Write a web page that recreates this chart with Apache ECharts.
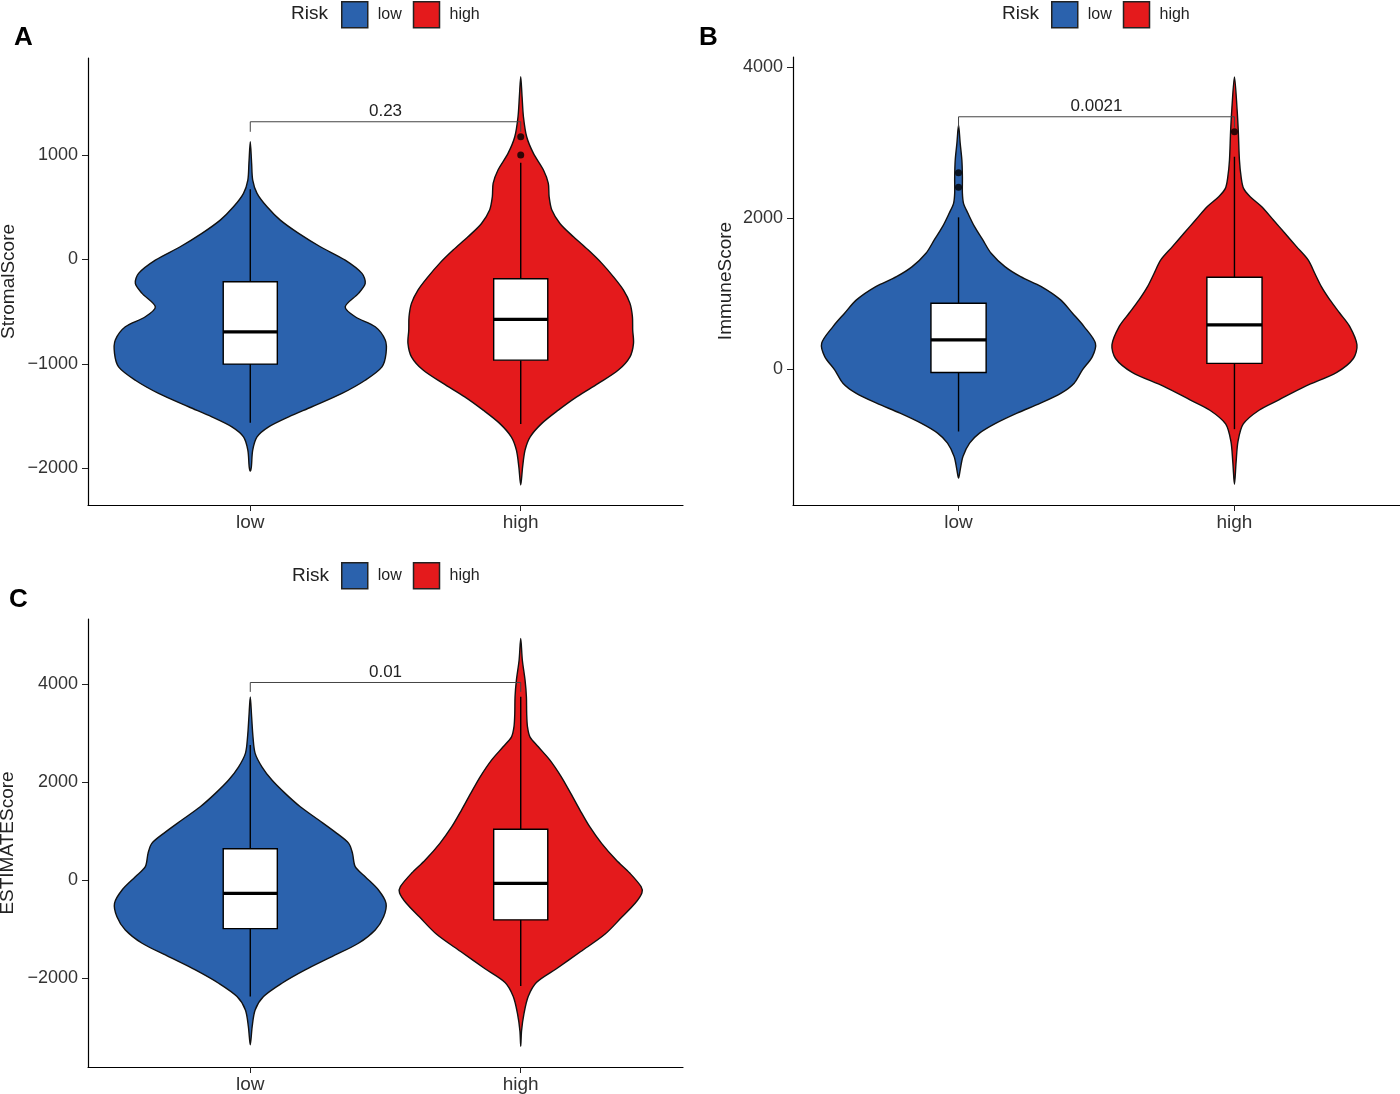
<!DOCTYPE html>
<html>
<head>
<meta charset="utf-8">
<script src="https://cdn.jsdelivr.net/npm/echarts@6/dist/echarts.min.js"></script>
<style>
  html, body { margin: 0; padding: 0; background: #fff; }
  #main { width: 1400px; height: 1094px; }
</style>
</head>
<body>
<div id="main"></div>
<script>
const categories = ['low', 'high'];

// A: StromalScore, violin outline (value, half width in x units)
const aLowY = [1125, 919, 759, 632, 503, 376, 249, 121, -7, -134, -230, -325, -454, -549, -645, -772, -900, -1028, -1156, -1282, -1410, -1506, -1602, -1698, -1825, -1985, -2026];
const aLowW = [0, 0.005, 0.009, 0.025, 0.062, 0.111, 0.179, 0.259, 0.351, 0.413, 0.425, 0.4, 0.351, 0.388, 0.462, 0.499, 0.502, 0.487, 0.425, 0.339, 0.228, 0.142, 0.068, 0.025, 0.009, 0.004, 0];
const aHighY = [1747, 1556, 1365, 1173, 1014, 855, 727, 599, 472, 344, 216, 89, -38, -167, -294, -421, -549, -677, -804, -932, -1059, -1187, -1315, -1442, -1569, -1698, -1825, -1985, -2160];
const aHighW = [0, 0.005, 0.01, 0.022, 0.047, 0.084, 0.102, 0.105, 0.115, 0.145, 0.195, 0.25, 0.3, 0.343, 0.38, 0.404, 0.413, 0.414, 0.417, 0.404, 0.361, 0.287, 0.207, 0.139, 0.078, 0.035, 0.016, 0.007, 0];
// box: [whisker low, q1, median, q3, whisker high]
const aLowBox = [-1563, -1002, -693, -214, 670];
const aHighBox = [-1576, -964, -574, -185, 925];
const aHighOut = [1173, 998];
const aTicks = [-2000, -1000, 0, 1000];

// B: ImmuneScore
const bLowY = [3234, 2991, 2770, 2549, 2329, 2196, 2064, 1886, 1710, 1533, 1356, 1223, 1091, 915, 738, 561, 341, 163, -13, -190, -322, -455, -587, -720, -852, -985, -1162, -1339, -1449];
const bLowW = [0, 0.006, 0.012, 0.014, 0.014, 0.018, 0.034, 0.058, 0.088, 0.118, 0.168, 0.225, 0.3, 0.37, 0.413, 0.455, 0.496, 0.485, 0.449, 0.419, 0.372, 0.297, 0.212, 0.136, 0.076, 0.04, 0.016, 0.006, 0];
const bHighY = [3874, 3433, 3145, 2770, 2549, 2394, 2284, 2151, 1975, 1798, 1621, 1445, 1268, 1091, 915, 738, 561, 320, 137, -46, -229, -411, -549, -731, -960, -1234, -1531];
const bHighW = [0, 0.0097, 0.014, 0.018, 0.024, 0.033, 0.057, 0.099, 0.141, 0.183, 0.225, 0.267, 0.291, 0.315, 0.346, 0.382, 0.418, 0.444, 0.431, 0.371, 0.258, 0.161, 0.089, 0.032, 0.013, 0.006, 0];
const bLowBox = [-831, -49, 384, 871, 2010];
const bHighBox = [-800, 73, 583, 1215, 2814];
const bLowOut = [2602, 2408];
const bHighOut = [3145];
const bTicks = [0, 2000, 4000];

// C: ESTIMATEScore
const cLowY = [3734, 3327, 2920, 2582, 2309, 2039, 1768, 1495, 1225, 954, 751, 547, 275, 71, -199, -470, -743, -1013, -1284, -1556, -1827, -2098, -2370, -2641, -2981, -3353];
const cLowW = [0, 0.005, 0.01, 0.018, 0.043, 0.08, 0.129, 0.185, 0.253, 0.32, 0.364, 0.378, 0.388, 0.425, 0.474, 0.502, 0.493, 0.462, 0.4, 0.302, 0.203, 0.117, 0.049, 0.018, 0.007, 0];
const cHighY = [4922, 4480, 4073, 3734, 3396, 3123, 2920, 2716, 2446, 2106, 1768, 1428, 1089, 751, 411, 140, -132, -260, -470, -751, -1102, -1453, -1804, -2084, -2365, -2716, -3067, -3382];
const cHighW = [0, 0.006, 0.016, 0.021, 0.022, 0.025, 0.034, 0.065, 0.108, 0.15, 0.185, 0.219, 0.255, 0.299, 0.353, 0.404, 0.445, 0.448, 0.423, 0.374, 0.311, 0.222, 0.132, 0.058, 0.028, 0.012, 0.003, 0];
const cLowBox = [-2370, -987, -267, 641, 2751];
const cHighBox = [-2154, -807, -63, 1036, 3734];
const cTicks = [-2000, 0, 2000, 4000];

// p value brackets: [bar, tip]
const pBars = [[1317, 1221], [3344, 3200], [4026, 3835]];
const pLabels = ['0.23', '0.0021', '0.01'];

const blue = '#2B62AD';
const red = '#E41A1C';
const font = 'Liberation Sans';

const chart = echarts.init(document.getElementById('main'));

function violinItem(ys, ws) {
  return function (params, api) {
    const c = api.value(0);
    const pts = [];
    for (let i = 0; i < ys.length; i++) pts.push(api.coord([c + ws[i], ys[i]]));
    for (let i = ys.length - 2; i > 0; i--) pts.push(api.coord([c - ws[i], ys[i]]));
    return {
      type: 'polygon',
      shape: { points: pts, smooth: 0.3 },
      style: { fill: api.visual('color'), stroke: '#111', lineWidth: 1.4 }
    };
  };
}

function boxItem(params, api) {
  const c = api.value(0);
  const lo = api.coord([c, api.value(1)]);
  const q1 = api.coord([c, api.value(2)]);
  const q3 = api.coord([c, api.value(4)]);
  const hi = api.coord([c, api.value(5)]);
  const bl = api.coord([c - 0.1, api.value(3)]);
  const br = api.coord([c + 0.1, api.value(3)]);
  return {
    type: 'group',
    children: [
      { type: 'line', shape: { x1: lo[0], y1: lo[1], x2: q1[0], y2: q1[1] }, style: { stroke: '#000', lineWidth: 1.4 } },
      { type: 'line', shape: { x1: q3[0], y1: q3[1], x2: hi[0], y2: hi[1] }, style: { stroke: '#000', lineWidth: 1.4 } },
      { type: 'rect', shape: { x: bl[0], y: q3[1], width: br[0] - bl[0], height: q1[1] - q3[1] }, style: { fill: '#fff', stroke: '#000', lineWidth: 1.4 } },
      { type: 'line', shape: { x1: bl[0], y1: bl[1], x2: br[0], y2: br[1] }, style: { stroke: '#000', lineWidth: 3.2 } }
    ]
  };
}

function bracketItem(label) {
  return function (params, api) {
    const p1 = api.coord([api.value(0), api.value(3)]);
    const p2 = api.coord([api.value(0), api.value(2)]);
    const p3 = api.coord([api.value(1), api.value(2)]);
    const p4 = api.coord([api.value(1), api.value(3)]);
    return {
      type: 'group',
      children: [
        { type: 'polyline', shape: { points: [p1, p2, p3, p4] }, style: { stroke: '#444', lineWidth: 1, fill: null } },
        { type: 'text', x: (p2[0] + p3[0]) / 2, y: p2[1] - 2, style: { text: label, fill: '#222', font: '17px "' + font + '"', align: 'center', verticalAlign: 'bottom' } }
      ]
    };
  };
}

// outerBoundsMode off so the grids stay where they are put
const grids = [
  { left: 88, top: 58, width: 595, height: 447, outerBoundsMode: 'none' },
  { left: 793, top: 57, width: 607, height: 448, outerBoundsMode: 'none' },
  { left: 88, top: 619, width: 595, height: 448, outerBoundsMode: 'none' }
];
const yRanges = [[-2350, 1927], [-1806, 4137], [-3804, 5319]];
const yNames = ['StromalScore', 'ImmuneScore', 'ESTIMATEScore'];
const yGaps = [70, 58, 71];
const tickSets = [aTicks, bTicks, cTicks];

const xAxes = grids.map((g, i) => ({
  type: 'value', gridIndex: i, min: 0.4, max: 2.6,
  axisLine: { onZero: false, lineStyle: { color: '#000', width: 1.2 } },
  axisTick: { customValues: [1, 2], length: 6, lineStyle: { color: '#222' } },
  axisLabel: { customValues: [1, 2], formatter: v => categories[Math.round(v) - 1], color: '#333', fontSize: 19, fontFamily: font, margin: 8 },
  splitLine: { show: false }
}));

const yAxes = grids.map((g, i) => ({
  type: 'value', gridIndex: i, min: yRanges[i][0], max: yRanges[i][1],
  name: yNames[i], nameLocation: 'middle', nameGap: yGaps[i],
  nameTextStyle: { color: '#222', fontSize: 19, fontFamily: font },
  axisLine: { show: true, onZero: false, lineStyle: { color: '#000', width: 1.2 } },
  axisTick: { show: true, customValues: tickSets[i], length: 6, lineStyle: { color: '#222' } },
  axisLabel: { customValues: tickSets[i], formatter: v => String(v).replace('-', '\u2212'), color: '#333', fontSize: 18, fontFamily: font, margin: 10 },
  splitLine: { show: false }
}));

const panels = [
  [aLowY, aLowW, aHighY, aHighW, aLowBox, aHighBox, [], aHighOut],
  [bLowY, bLowW, bHighY, bHighW, bLowBox, bHighBox, bLowOut, bHighOut],
  [cLowY, cLowW, cHighY, cHighW, cLowBox, cHighBox, [], []]
];

const series = [];
panels.forEach((p, i) => {
  series.push({
    name: 'low', type: 'custom', xAxisIndex: i, yAxisIndex: i, itemStyle: { color: blue },
    renderItem: violinItem(p[0], p[1]), data: [[1, p[0][0]]], silent: true
  });
  series.push({
    name: 'high', type: 'custom', xAxisIndex: i, yAxisIndex: i, itemStyle: { color: red },
    renderItem: violinItem(p[2], p[3]), data: [[2, p[2][0]]], silent: true
  });
  series.push({
    name: 'box' + i, type: 'custom', xAxisIndex: i, yAxisIndex: i, z: 3,
    renderItem: boxItem, data: [[1].concat(p[4]), [2].concat(p[5])], silent: true
  });
  series.push({
    name: 'out' + i, type: 'scatter', xAxisIndex: i, yAxisIndex: i, z: 4,
    symbolSize: 7, itemStyle: { color: '#000' },
    data: p[6].map(v => [1, v]).concat(p[7].map(v => [2, v]))
  });
  series.push({
    name: 'p' + i, type: 'custom', xAxisIndex: i, yAxisIndex: i, z: 5,
    renderItem: bracketItem(pLabels[i]), data: [[1, 2, pBars[i][0], pBars[i][1]]], silent: true
  });
});

const legendBase = {
  data: ['low', 'high'], icon: 'rect', itemWidth: 26, itemHeight: 26, itemGap: 11, padding: 0,
  itemStyle: { borderColor: '#222', borderWidth: 1.5 },
  textStyle: { fontSize: 16, fontFamily: font, color: '#222', padding: [0, 0, 0, 5] },
  selectedMode: false
};

const titleStyle = { fontSize: 26, fontWeight: 'bold', fontFamily: font, color: '#000' };
const riskStyle = { fontSize: 19, fontWeight: 'normal', fontFamily: font, color: '#222' };

chart.setOption({
  backgroundColor: '#fff',
  animation: false,
  title: [
    { text: 'A', left: 14, top: 25, padding: 0, textStyle: titleStyle },
    { text: 'B', left: 699, top: 25, padding: 0, textStyle: titleStyle },
    { text: 'C', left: 9, top: 587, padding: 0, textStyle: titleStyle },
    { text: 'Risk', left: 291, top: 4, padding: 0, textStyle: riskStyle },
    { text: 'Risk', left: 1002, top: 4, padding: 0, textStyle: riskStyle },
    { text: 'Risk', left: 292, top: 566, padding: 0, textStyle: riskStyle }
  ],
  legend: [
    Object.assign({ left: 341, top: 1 }, legendBase),
    Object.assign({ left: 1051, top: 1 }, legendBase),
    Object.assign({ left: 341, top: 562 }, legendBase)
  ],
  grid: grids,
  xAxis: xAxes,
  yAxis: yAxes,
  series: series
});
</script>
</body>
</html>
